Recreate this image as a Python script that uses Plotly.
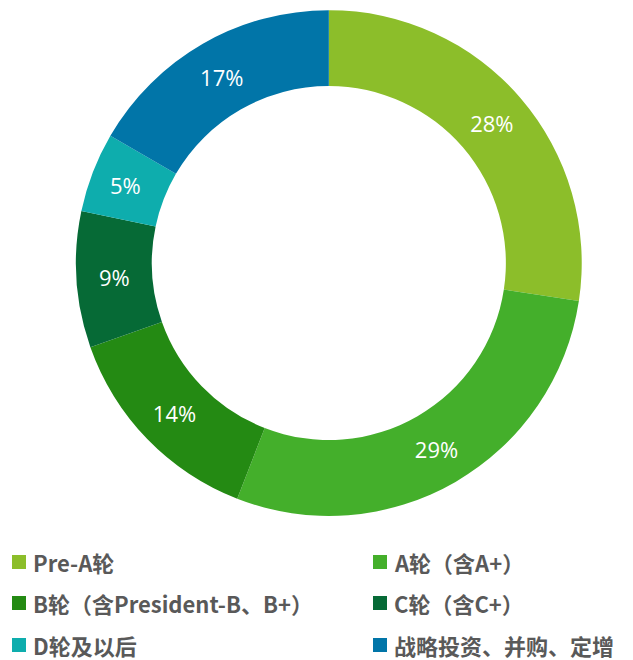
import plotly.graph_objects as go

labels = ["Pre-A轮", "A轮（含A+）", "B轮（含President-B、B+）", "C轮（含C+）", "D轮及以后", "战略投资、并购、定增"]
values = [27.4, 28.5, 13.7, 8.7, 5.1, 16.6]
pct_text = ["28%", "29%", "14%", "9%", "5%", "17%"]
colors = ["#8CBE2A", "#44AF2B", "#248A13", "#066A36", "#0EADAD", "#0175A8"]

W, H = 633, 660

fig = go.Figure(go.Pie(
    labels=labels, values=values, text=pct_text, textinfo="text",
    texttemplate="%{text}",
    marker=dict(colors=colors, line=dict(width=0)),
    hole=0.70, sort=False, direction="clockwise", rotation=0,
    textposition="inside", insidetextorientation="horizontal",
    textfont=dict(color="white", size=22, family="Open Sans"),
    domain=dict(x=[0.12, 0.919], y=[0.218, 0.985]),
    showlegend=False,
))

# legend drawn as squares + text, 2 columns x 3 rows
col_x = [12, 373]
row_y = [562, 603, 645]
shapes = []
annotations = []
for i, (lab, col) in enumerate(zip(labels, colors)):
    cx = col_x[i % 2]
    cy = row_y[i // 2]
    shapes.append(dict(type="rect", xref="paper", yref="paper",
                       x0=cx / W, x1=(cx + 14) / W,
                       y0=1 - (cy + 7) / H, y1=1 - (cy - 7) / H,
                       fillcolor=col, line=dict(width=0)))
    annotations.append(dict(text="<b>" + lab + "</b>", xref="paper", yref="paper",
                            x=(cx + 19) / W, y=1 - cy / H, xanchor="left", yanchor="middle",
                            showarrow=False,
                            font=dict(size=22, color="#595959", family="Noto Sans CJK SC")))

fig.update_layout(
    width=W, height=H, margin=dict(l=0, r=0, t=0, b=0),
    paper_bgcolor="white", plot_bgcolor="white",
    shapes=shapes, annotations=annotations,
)
fig.write_html("out.html", config={"displayModeBar": False},
               post_script="document.body.style.margin='0';document.body.style.overflow='hidden';")
